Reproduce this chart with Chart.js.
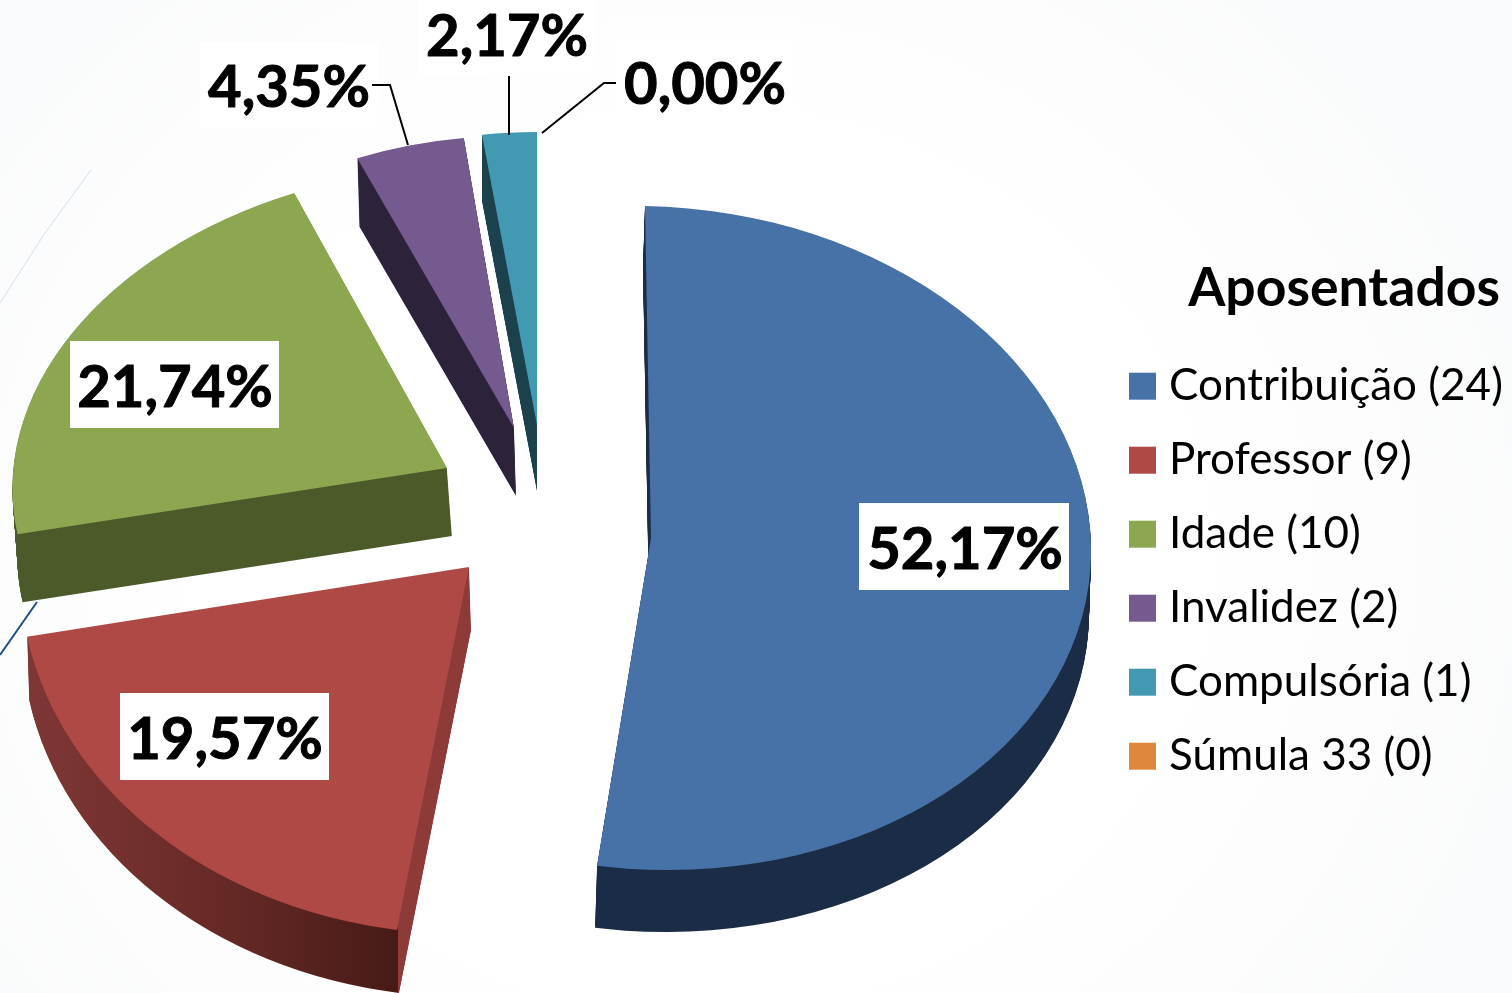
<!DOCTYPE html>
<html><head><meta charset="utf-8">
<style>
html,body{margin:0;padding:0;width:1512px;height:993px;overflow:hidden;background:radial-gradient(ellipse 900px 800px at 700px 560px,#ffffff 55%,#f9fafb 100%);}
#wrap{position:absolute;left:0;top:0;width:1512px;height:993px;}
</style>
<script src="https://cdn.jsdelivr.net/npm/chart.js@4/dist/chart.umd.js"></script>
</head><body><div id="wrap"><canvas id="c" width="1512" height="993"></canvas></div>
<script>
const categories = ['Contribuição (24)','Professor (9)','Idade (10)','Invalidez (2)','Compulsória (1)','Súmula 33 (0)'];
const counts = [24,9,10,2,1,0];
const sliceColors = ['#4672a8','#ae4946','#8ca750','#745a8e','#429ab2','#df873c'];
const legendTitle = 'Aposentados';
const FONT = 'Lato';

// 3D look: projected apex and axes of each exploded slice, and its extrusion
const sliceProjection = [
  {px:651,py:538,a:440,b:-6,c:332,d:8,depth:62,shift:-2},
  {px:469,py:567,a:449,b:11,c:367,d:5,depth:63,shift:2},
  {px:447,py:468,a:434,b:22,c:302,d:-5,depth:68,shift:5},
  {px:514,py:428,a:405,b:5,c:292,d:5,depth:68,shift:2},
  {px:537,py:425,a:404,b:0,c:293,d:0,depth:66,shift:0}
];
const depthStops = [
  [[0,'#1a2c46'],[1,'#1a2c46']],
  [[0,'#7f3735'],[0.45,'#6a2b28'],[0.7,'#5a2420'],[0.972,'#471a17'],[0.972,'#8d3a38'],[1,'#8d3a38']],
  [[0,'#4c5a29'],[1,'#4c5a29']],
  [[0,'#2c2239'],[1,'#2c2239']],
  [[0,'#1b414c'],[1,'#1b414c']]
];
const depthGradientX = [0,1512];
const redGradientX = [27,409];
const labelBoxes = [
  {x:859,y:503,w:210,h:87,cx:965,cy:550},
  {x:120,y:693,w:209,h:87,cx:225,cy:740},
  {x:70,y:341,w:209,h:87,cx:175,cy:388},
  {x:200,y:42,w:178,h:86,cx:289,cy:88},
  {x:418,y:0,w:177,h:75,cx:507,cy:37},
  {x:617,y:39,w:177,h:88,cx:705,cy:85}
];
const leaderLines = [
  [[372,85],[390,85],[408,145]],
  [[509,76],[509,135]],
  [[616,83],[604,83],[542,133]]
];
const decoLines = [
  {pts:[[91,170],[45,233],[0,303]],color:'#d5dee9',w:1},
  {pts:[[37,602],[0,655]],color:'#1f4e86',w:2}
];

const total = counts.reduce((s,v)=>s+v,0);
const pct = v => (v/total*100).toFixed(2).replace('.',',')+'%';

function drawArcWith(ctx,arc,g,fill){
  const R = arc.outerRadius;
  ctx.save();
  ctx.transform(g.a/R,g.d/R,-g.b/R,g.c/R,g.px,g.py);
  ctx.translate(-arc.x,-arc.y);
  const o = arc.options;
  arc.options = Object.assign({},o,{backgroundColor:fill,borderWidth:0,offset:0,spacing:0,borderRadius:0});
  arc.draw(ctx);
  arc.options = o;
  ctx.restore();
}

const pie3d = {
  id:'pie3d',
  beforeDatasetDraw(chart){
    const ctx = chart.ctx;
    const arcs = chart.getDatasetMeta(0).data;
    const W = chart.canvas.width, H = chart.canvas.height;
    sliceProjection.forEach((g,i)=>{
      const t = document.createElement('canvas'); t.width=W; t.height=H;
      const tc = t.getContext('2d');
      for(let k=g.depth;k>=1;k--){
        tc.save();
        tc.translate(g.shift*k/g.depth,k);
        drawArcWith(tc,arcs[i],g,'#000');
        tc.restore();
      }
      const gx = i===1?redGradientX:depthGradientX;
      const lg = tc.createLinearGradient(gx[0],0,gx[1],0);
      depthStops[i].forEach(s=>lg.addColorStop(s[0],s[1]));
      tc.globalCompositeOperation='source-in';
      tc.fillStyle=lg; tc.fillRect(0,0,W,H);
      ctx.drawImage(t,0,0);
    });
    sliceProjection.forEach((g,i)=>drawArcWith(ctx,arcs[i],g,sliceColors[i]));
    return false;
  },
  beforeDraw(chart){
    const ctx = chart.ctx;
    ctx.save();
    decoLines.forEach(l=>{
      ctx.beginPath();ctx.strokeStyle=l.color;ctx.lineWidth=l.w;
      l.pts.forEach((p,i)=>i?ctx.lineTo(p[0],p[1]):ctx.moveTo(p[0],p[1]));
      ctx.stroke();
    });
    ctx.restore();
    const lg = chart.legend;
    const h = lg.height;
    lg.left = 1108; lg.right = 1512; lg.width = 392; lg.top = 262; lg.bottom = lg.top+h;
  },
  afterDatasetsDraw(chart){
    const ctx = chart.ctx;
    ctx.save();
    labelBoxes.forEach((b,i)=>{
      ctx.fillStyle='#ffffff';
      ctx.fillRect(b.x,b.y,b.w,b.h);
    });
    ctx.strokeStyle='#000';ctx.lineWidth=2;
    leaderLines.forEach(l=>{
      ctx.beginPath();
      l.forEach((p,i)=>i?ctx.lineTo(p[0],p[1]):ctx.moveTo(p[0],p[1]));
      ctx.stroke();
    });
    ctx.fillStyle='#000';ctx.strokeStyle='#000';ctx.lineWidth=1;ctx.lineJoin='round';
    ctx.font='bold 58px '+FONT;
    ctx.textAlign='center';ctx.textBaseline='middle';
    labelBoxes.forEach((b,i)=>{
      ctx.fillText(pct(counts[i]),b.cx,b.cy);
      ctx.strokeText(pct(counts[i]),b.cx,b.cy);
    });
    ctx.restore();
  }
};

new Chart(document.getElementById('c'),{
  type:'pie',
  data:{labels:categories,datasets:[{data:counts,backgroundColor:sliceColors,borderWidth:0}]},
  plugins:[pie3d],
  options:{
    responsive:false,animation:false,
    plugins:{
      tooltip:{enabled:false},
      legend:{
        position:'right',align:'start',
        title:{display:true,position:'end',text:legendTitle,color:'#000',font:{family:FONT,size:53.5,weight:'bold'},padding:{top:0,bottom:8}},
        labels:{color:'#000',font:{family:FONT,size:44},usePointStyle:true,pointStyle:'rect',boxWidth:9,boxHeight:27,padding:30}
      }
    }
  }
});
</script></body></html>
